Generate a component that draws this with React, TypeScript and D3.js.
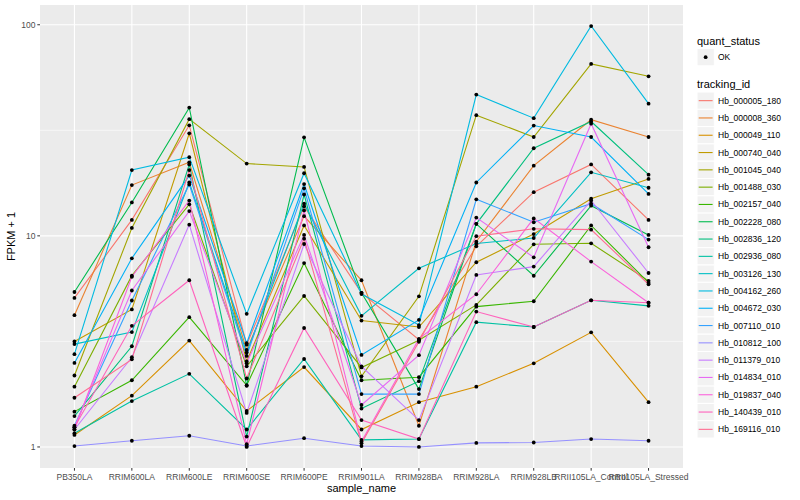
import React from 'react'
import * as d3 from 'd3'

// sample order on the x axis
const samples = [
  'PB350LA', 'RRIM600LA', 'RRIM600LE', 'RRIM600SE', 'RRIM600PE', 'RRIM901LA',
  'RRIM928BA', 'RRIM928LA', 'RRIM928LB', 'RRII105LA_Control', 'RRII105LA_Stressed',
]

const trackingIds = [
  'Hb_000005_180', 'Hb_000008_360', 'Hb_000049_110', 'Hb_000740_040', 'Hb_001045_040',
  'Hb_001488_030', 'Hb_002157_040', 'Hb_002228_080', 'Hb_002836_120', 'Hb_002936_080',
  'Hb_003126_130', 'Hb_004162_260', 'Hb_004672_030', 'Hb_007110_010', 'Hb_010812_100',
  'Hb_011379_010', 'Hb_014834_010', 'Hb_019837_040', 'Hb_140439_010', 'Hb_169116_010',
]

// ggplot hue palette, 20 levels
const colors = [
  '#F8766D', '#EA8331', '#D89000', '#C09B00', '#A3A500', '#7CAE00', '#39B600', '#00BB4E',
  '#00BF7D', '#00C1A3', '#00BFC4', '#00BAE0', '#00B0F6', '#35A2FF', '#9590FF', '#C77CFF',
  '#E76BF3', '#FA62DB', '#FF62BC', '#FF6C91',
]

// FPKM + 1 per gene, one value per sample
const hb000005 = [5.08, 11.9, 33.4, 3.05, 13.8, 5.37, 3.22, 8.92, 16.1, 21.8, 11.9]
const hb000008 = [4.21, 17.4, 22.3, 2.88, 12.4, 6.16, 1.26, 9.4, 21.5, 35.5, 29.4]
const hb000049 = [1.14, 1.75, 3.19, 1.48, 2.39, 1.21, 1.63, 1.93, 2.49, 3.49, 1.63]
const hb000740 = [3.16, 4.48, 30.6, 2.54, 11.2, 3.97, 3.7, 7.5, 10.2, 15.0, 18.6]
const hb001045 = [2.18, 10.9, 35.7, 22.0, 21.2, 2.16, 5.17, 37.3, 29.4, 65.2, 57.0]
const hb001488 = [1.93, 6.48, 14.1, 2.41, 5.19, 2.38, 3.2, 4.71, 9.12, 9.22, 6.12]
const hb002157 = [1.47, 2.07, 4.12, 1.96, 7.43, 2.07, 2.14, 4.62, 4.9, 11.2, 6.0]
const hb002228 = [5.42, 14.4, 40.5, 1.95, 29.3, 5.37, 1.88, 11.4, 6.47, 13.9, 10.1]
const hb002836 = [1.4, 3.0, 21.8, 1.12, 15.7, 1.52, 2.05, 11.4, 26.0, 34.8, 19.5]
const hb002936 = [1.16, 1.65, 2.22, 1.21, 2.61, 1.08, 1.09, 3.9, 3.7, 4.95, 4.66]
const hb003126 = [3.07, 3.5, 17.9, 2.8, 14.2, 4.18, 7.02, 9.2, 9.77, 20.0, 16.9]
const hb004162 = [2.75, 20.5, 23.6, 4.27, 19.8, 5.3, 3.78, 46.7, 36.1, 98.6, 42.3]
const hb004672 = [2.5, 7.83, 19.3, 3.1, 17.6, 2.73, 4.0, 17.9, 33.3, 29.4, 15.8]
const hb007110 = [1.26, 4.94, 17.5, 2.7, 16.8, 1.78, 1.78, 14.9, 11.6, 14.2, 9.6]
const hb010812 = [1.01, 1.07, 1.13, 1.01, 1.1, 1.01, 1.0, 1.045, 1.05, 1.09, 1.07]
const hb011379 = [1.21, 2.66, 11.3, 1.45, 9.15, 2.41, 1.34, 6.53, 7.15, 14.7, 6.67]
const hb014834 = [1.24, 5.51, 13.1, 2.49, 10.1, 1.58, 2.72, 12.2, 7.91, 34.0, 8.83]
const hb019837 = [1.21, 6.4, 14.7, 1.03, 13.2, 1.06, 3.25, 5.29, 12.1, 7.55, 4.82]
const hb140439 = [1.24, 3.75, 6.16, 1.0, 3.66, 1.34, 1.09, 4.38, 3.7, 4.95, 4.82]
const hb169116 = [1.71, 2.6, 20.5, 2.11, 9.7, 1.04, 3.15, 9.96, 10.8, 10.7, 5.9]

const seriesValues = [
  hb000005, hb000008, hb000049, hb000740, hb001045, hb001488, hb002157, hb002228, hb002836, hb002936,
  hb003126, hb004162, hb004672, hb007110, hb010812, hb011379, hb014834, hb019837, hb140439, hb169116,
]

const yTicks = [1, 10, 100]
const yMinor = [Math.sqrt(10), Math.sqrt(1000)]

const W = 800
const H = 500
const panel = { left: 40, right: 683, top: 5, bottom: 468 }

const App = () => {
  const x = d3.scalePoint<string>().domain(samples).range([panel.left, panel.right]).padding(0.6)

  const all = seriesValues.flat()
  const lo = Math.log10(d3.min(all) as number)
  const hi = Math.log10(d3.max(all) as number)
  const pad = (hi - lo) * 0.05
  const y = d3.scaleLog().domain([10 ** (lo - pad), 10 ** (hi + pad)]).range([panel.bottom, panel.top])

  const line = d3.line<number>()
    .x((_, i) => x(samples[i]) as number)
    .y((d) => y(d))

  const font = 'Liberation Sans, Arial, sans-serif'
  const keyStep = 17.3

  return (
    <svg width={W} height={H} style={{ position: 'absolute', left: 0, top: 0, background: '#fff' }} fontFamily={font}>
      <rect x={panel.left} y={panel.top} width={panel.right - panel.left} height={panel.bottom - panel.top} fill="#EBEBEB" />
      {yMinor.map((t) => (
        <line key={'mi' + t} x1={panel.left} x2={panel.right} y1={y(t)} y2={y(t)} stroke="#fff" strokeWidth={0.55} />
      ))}
      {yTicks.map((t) => (
        <line key={'ma' + t} x1={panel.left} x2={panel.right} y1={y(t)} y2={y(t)} stroke="#fff" strokeWidth={1.1} />
      ))}
      {samples.map((s) => (
        <line key={'v' + s} x1={x(s)} x2={x(s)} y1={panel.top} y2={panel.bottom} stroke="#fff" strokeWidth={1.1} />
      ))}

      {seriesValues.map((vals, i) => (
        <path key={'l' + i} d={line(vals) || ''} fill="none" stroke={colors[i]} strokeWidth={1.1} />
      ))}
      {seriesValues.map((vals, i) =>
        vals.map((v, j) => (
          <circle key={'p' + i + '_' + j} cx={x(samples[j])} cy={y(v)} r={1.9} fill="#000" />
        ))
      )}

      {/* y axis */}
      {yTicks.map((t) => (
        <g key={'yt' + t}>
          <line x1={panel.left - 2.7} x2={panel.left} y1={y(t)} y2={y(t)} stroke="#333" strokeWidth={1} />
          <text x={panel.left - 4.5} y={y(t) + 3} textAnchor="end" fontSize={8.5} fill="#4D4D4D">{t}</text>
        </g>
      ))}
      {/* x axis */}
      {samples.map((s) => (
        <g key={'xt' + s}>
          <line x1={x(s)} x2={x(s)} y1={panel.bottom} y2={panel.bottom + 2.7} stroke="#333" strokeWidth={1} />
          <text x={x(s)} y={panel.bottom + 12} textAnchor="middle" fontSize={8.5} fill="#4D4D4D">{s}</text>
        </g>
      ))}
      <text x={(panel.left + panel.right) / 2} y={492} textAnchor="middle" fontSize={11}>sample_name</text>
      <text transform={`translate(15,${(panel.top + panel.bottom) / 2}) rotate(-90)`} textAnchor="middle" fontSize={11}>FPKM + 1</text>

      {/* legend: quant_status */}
      <text x={697} y={44.5} fontSize={11}>quant_status</text>
      <rect x={697} y={48.5} width={keyStep} height={keyStep} fill="#F2F2F2" stroke="#fff" strokeWidth={1} />
      <circle cx={697 + keyStep / 2} cy={48.5 + keyStep / 2} r={1.9} fill="#000" />
      <text x={718} y={48.5 + keyStep / 2 + 3} fontSize={8.5}>OK</text>

      {/* legend: tracking_id */}
      <text x={697} y={88} fontSize={11}>tracking_id</text>
      {trackingIds.map((id, i) => {
        const top = 92 + i * keyStep
        return (
          <g key={'lg' + id}>
            <rect x={697} y={top} width={keyStep} height={keyStep} fill="#F2F2F2" stroke="#fff" strokeWidth={1} />
            <line x1={698.7} x2={712.6} y1={top + keyStep / 2} y2={top + keyStep / 2} stroke={colors[i]} strokeWidth={1.1} />
            <text x={718} y={top + keyStep / 2 + 3} fontSize={8.5}>{id}</text>
          </g>
        )
      })}
    </svg>
  )
}

export default App
